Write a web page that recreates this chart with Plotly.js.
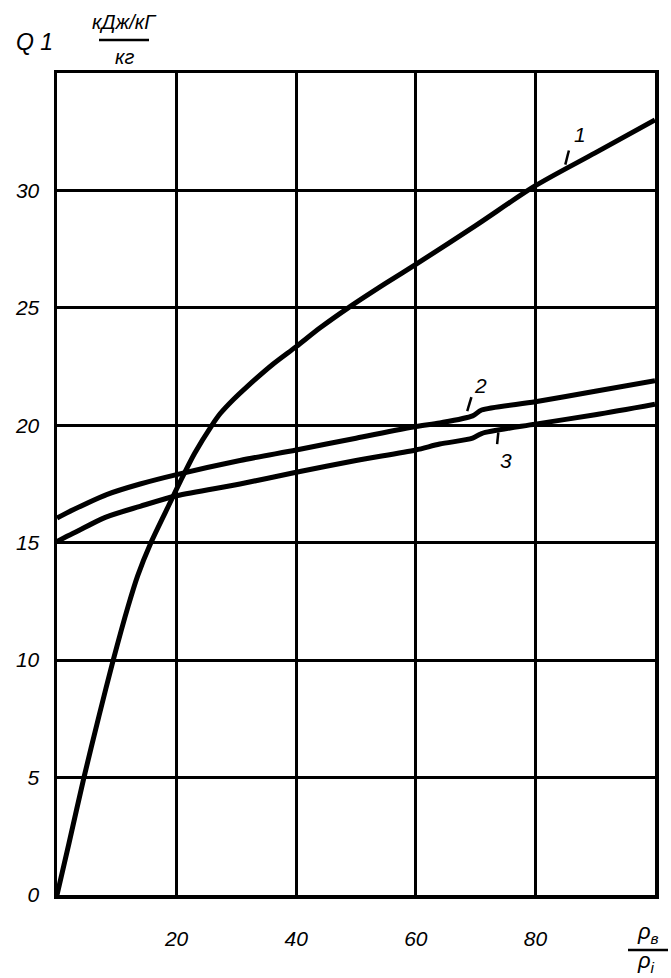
<!DOCTYPE html>
<html>
<head>
<meta charset="utf-8">
<script src="https://cdn.plot.ly/plotly-3.0.1.min.js"></script>
<style>html,body{margin:0;padding:0;background:#fff;}#chart{width:671px;height:978px;}</style>
</head>
<body>
<div id="chart"></div>
<script>
// Curve 1
const x1 = [0, 2, 4.5, 7, 9.4, 11.9, 13.5, 15.7, 18.9, 20.6, 23, 25.9, 27.3, 29.5, 31.8, 36.1, 40, 44, 48.7, 55, 60, 70, 80, 90, 100];
const y1 = [0, 2.2, 5, 7.6, 10, 12.3, 13.6, 15, 16.7, 17.6, 18.8, 20, 20.5, 21.1, 21.65, 22.6, 23.35, 24.15, 25, 26.05, 26.85, 28.5, 30.2, 31.6, 33];
// Curve 2
const x2 = [0, 2.7, 8.3, 13.9, 20, 30.6, 40, 50, 60, 64, 69.5, 71, 80, 90, 100];
const y2 = [16.05, 16.4, 17.05, 17.5, 17.9, 18.5, 18.95, 19.45, 19.95, 20.1, 20.4, 20.65, 21.0, 21.45, 21.9];
// Curve 3
const x3 = [0, 2.7, 8.3, 13.9, 20, 30.6, 40, 50, 60, 64, 69.5, 71, 80, 90, 100];
const y3 = [15.05, 15.4, 16.1, 16.55, 17.0, 17.5, 18.0, 18.5, 18.95, 19.2, 19.45, 19.65, 20.05, 20.45, 20.9];

const xTickVals = [20, 40, 60, 80];
const xTickText = ['20', '40', '60', '80'];
const yTickVals = [0, 5, 10, 15, 20, 25, 30];
const yTickText = ['0', '5', '10', '15', '20', '25', '30'];

const curveLabels = ['1', '2', '3'];
const labelX = [87.5, 70.8, 75.0];
const labelY = [32.4, 21.7, 18.5];

const fontFam = 'Liberation Sans, Arial, sans-serif';
const lineStyle = {color: '#000', width: 5, shape: 'spline', smoothing: 0.8};

const traces = [
  {x: x1, y: y1, mode: 'lines', line: lineStyle, hoverinfo: 'skip'},
  {x: x2, y: y2, mode: 'lines', line: lineStyle, hoverinfo: 'skip'},
  {x: x3, y: y3, mode: 'lines', line: lineStyle, hoverinfo: 'skip'}
];

const W = 671, H = 978, L = 57, R = 16, T = 73, B = 83;
const pw = W - L - R, ph = H - T - B;
function px(xp){return (xp - L) / pw;}
function py(yp){return (H - B - yp) / ph;}

const annotations = curveLabels.map((t, i) => ({
  x: labelX[i], y: labelY[i], xref: 'x', yref: 'y', text: t, showarrow: false,
  font: {family: fontFam, size: 21, color: '#000', style: 'italic'}
}));
annotations.push(
  {x: px(14), y: py(42), xref: 'paper', yref: 'paper', xanchor: 'left', yanchor: 'middle', text: 'Q 1', showarrow: false,
   font: {family: fontFam, size: 23, color: '#000', style: 'italic'}},
  {x: px(124), y: py(22), xref: 'paper', yref: 'paper', text: 'кДж/кГ', showarrow: false, xanchor: 'center', yanchor: 'middle',
   font: {family: fontFam, size: 20, color: '#000', style: 'italic'}},
  {x: px(124), y: py(57), xref: 'paper', yref: 'paper', text: 'кг', showarrow: false, xanchor: 'center', yanchor: 'middle',
   font: {family: fontFam, size: 20, color: '#000', style: 'italic'}},
  {x: px(648), y: py(933), xref: 'paper', yref: 'paper', text: 'ρ<sub>в</sub>', showarrow: false, xanchor: 'center', yanchor: 'middle',
   font: {family: fontFam, size: 22, color: '#000', style: 'italic'}},
  {x: px(646), y: py(962), xref: 'paper', yref: 'paper', text: 'ρ<sub>i</sub>', showarrow: false, xanchor: 'center', yanchor: 'middle',
   font: {family: fontFam, size: 22, color: '#000', style: 'italic'}}
);

const shapes = [
  {type: 'line', xref: 'paper', yref: 'paper', x0: px(99), x1: px(149), y0: py(40), y1: py(40), line: {color: '#000', width: 2.5}},
  {type: 'line', xref: 'paper', yref: 'paper', x0: px(628), x1: px(668), y0: py(950), y1: py(950), line: {color: '#000', width: 2.5}},
  {type: 'line', xref: 'x', yref: 'y', x0: 85.0, y0: 31.1, x1: 85.6, y1: 31.7, line: {color: '#000', width: 2.5}},
  {type: 'line', xref: 'x', yref: 'y', x0: 68.6, y0: 20.6, x1: 69.3, y1: 21.2, line: {color: '#000', width: 2.5}},
  {type: 'line', xref: 'x', yref: 'y', x0: 73.6, y0: 19.2, x1: 73.8, y1: 19.7, line: {color: '#000', width: 2.5}}
];

const layout = {
  width: W, height: H,
  margin: {l: L, r: R, t: T, b: B, pad: 0},
  paper_bgcolor: '#fff', plot_bgcolor: '#fff',
  showlegend: false,
  xaxis: {
    range: [0, 100], tickvals: xTickVals, ticktext: xTickText,
    showgrid: true, gridcolor: '#000', gridwidth: 2.8,
    zeroline: false, showline: true, linecolor: '#000', linewidth: 3.5, mirror: true,
    ticks: '', ticklabelstandoff: 22,
    tickfont: {family: fontFam, size: 21, color: '#000', style: 'italic'}
  },
  yaxis: {
    range: [0, 35], tickvals: yTickVals, ticktext: yTickText,
    showgrid: true, gridcolor: '#000', gridwidth: 2.8,
    zeroline: false, showline: true, linecolor: '#000', linewidth: 3.5, mirror: true,
    ticks: '', ticklabelstandoff: 10,
    tickfont: {family: fontFam, size: 21, color: '#000', style: 'italic'}
  },
  annotations: annotations,
  shapes: shapes
};

Plotly.newPlot('chart', traces, layout, {displayModeBar: false, staticPlot: true});
</script>
</body>
</html>
